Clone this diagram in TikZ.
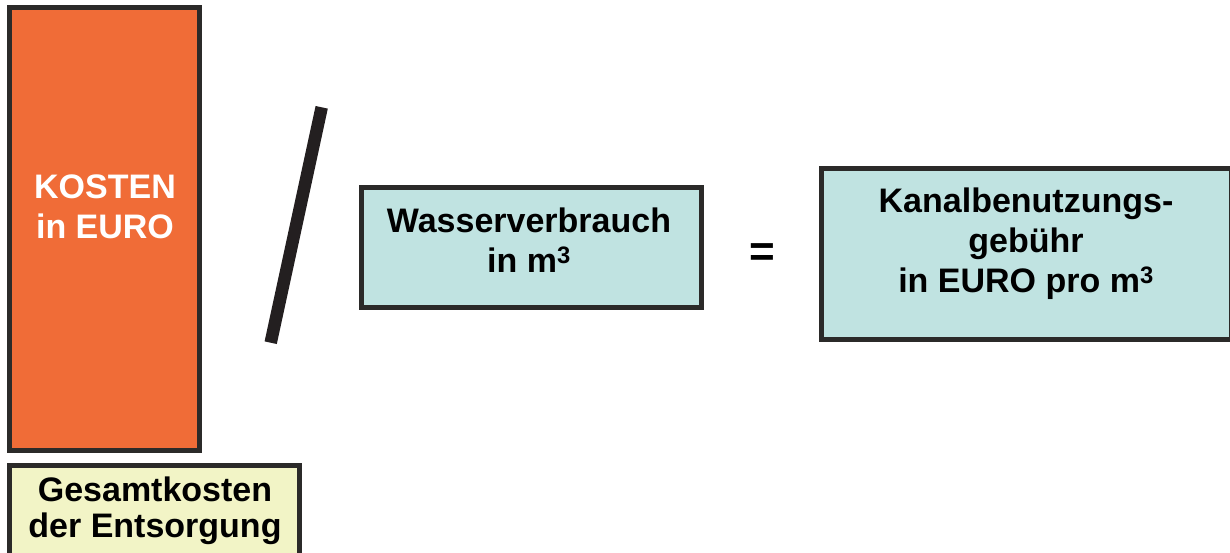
\documentclass[tikz,border=0pt]{standalone}
\usepackage{fontspec}
\setmainfont{Liberation Sans}
\usepackage{tikz}
\usetikzlibrary{positioning}

\definecolor{kostenorange}{HTML}{F06C37}
\definecolor{wasserblue}{HTML}{C0E3E1}
\definecolor{gesamtyellow}{HTML}{F2F4C6}
\definecolor{rahmen}{HTML}{2B2A29}
\definecolor{strich}{HTML}{231F20}

\tikzset{
  box/.style={draw=rahmen, line width=5pt, inner sep=0pt, outer sep=0pt},
  boxtext/.style={align=center, font=\bfseries\fontsize{34}{40}\selectfont, inner sep=0pt}
}

\begin{document}
\begin{tikzpicture}[x=1pt, y=-1pt]
                \useasboundingbox (0,0) rectangle (1230,552);
                % boxes
                \node[box, fill=kostenorange, minimum width=190pt, minimum height=443pt] (kosten) at (104.5,229) {};
                \node[box, fill=gesamtyellow, minimum width=290pt, minimum height=92.5pt] (gesamt) at (154.5,511.75) {};
                \node[box, fill=wasserblue, minimum width=340pt, minimum height=120pt] (wasser) at (531.5,247.5) {};
                \node[box, fill=wasserblue, minimum width=409.5pt, minimum height=171pt] (gebuehr) at (1026.25,254) {};
                % texts
                \node[boxtext, text=white] (kostentext) at (105,206.9) {KOSTEN\\in EURO};
                \node[boxtext, font=\bfseries\fontsize{34}{36}\selectfont] (gesamttext) at (155,511.2) {Gesamtkosten\\der Entsorgung};
                \node[boxtext] (wassertext) at (529,240.6) {Wasserverbrauch\\in m\textsuperscript{3}};
                \node[boxtext] (gebuehrtext) at (1026,244.2) {Kanalbenutzungs-\\gebühr\\in EURO pro m\textsuperscript{3}};
                % operators
                \coordinate (slashtop) at (321.7,107.3);
                \coordinate (slashbottom) at (270.7,342.7);
                \draw[strich, line width=12.5pt] (slashtop) -- (slashbottom);
                \node[inner sep=0pt, anchor=base, font=\bfseries\fontsize{44}{44}\selectfont] (gleich) at (762,266) {=};
            \end{tikzpicture}
\end{document}
